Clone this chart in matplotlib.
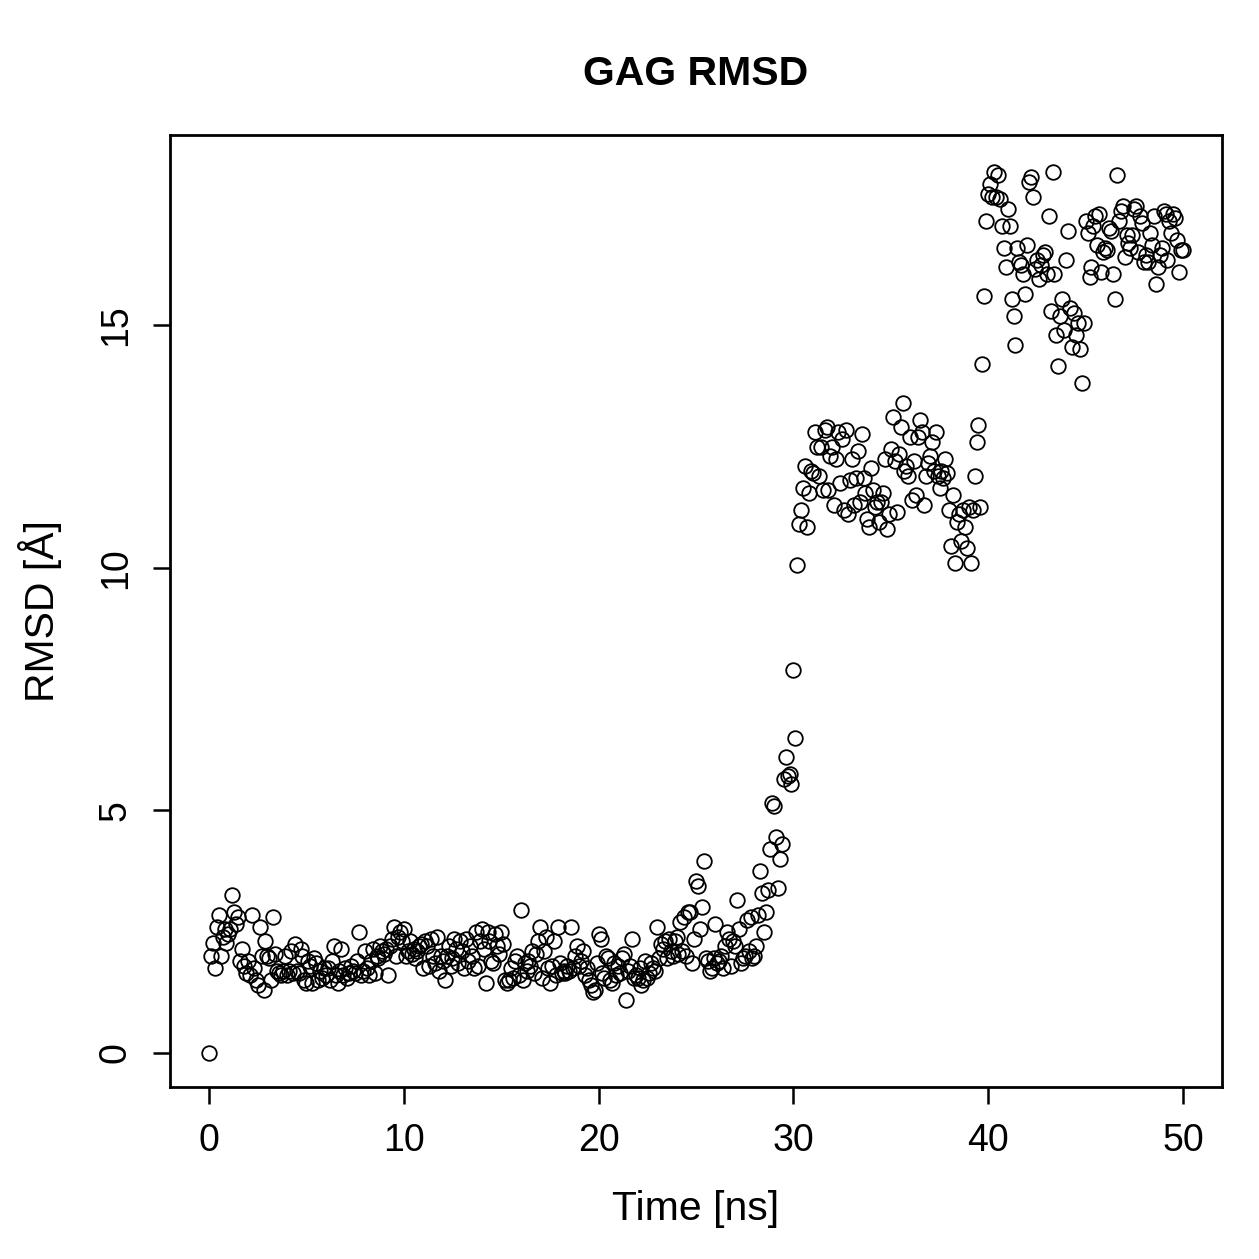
import numpy as np
import matplotlib.pyplot as plt

# RMSD values, one per 0.1 ns (rows = 1 ns)
rmsd = [
    0.0, 2.0, 2.27, 1.75, 2.6, 2.85, 2.0, 2.4, 2.55, 2.27,
    2.45, 2.55, 3.25, 2.9, 2.65, 2.8, 1.9, 2.15, 1.8, 1.65,
    1.9, 1.6, 2.85, 1.75, 1.5, 1.4, 2.6, 2.0, 1.3, 2.3,
    2.0, 1.95, 1.5, 2.8, 2.05, 1.7, 1.65, 1.6, 1.7, 2.0,
    1.6, 1.7, 2.1, 1.65, 2.25, 1.7, 1.65, 2.15, 2.0, 1.5,
    1.45, 1.9, 1.8, 1.45, 1.95, 1.85, 1.5, 1.7, 1.55, 1.75,
    1.6, 1.75, 1.5, 1.9, 2.2, 1.6, 1.45, 1.7, 2.15, 1.6,
    1.75, 1.55, 1.65, 1.8, 1.7, 1.65, 1.9, 2.5, 1.6, 1.7,
    2.1, 1.75, 1.6, 1.9, 2.15, 1.65, 2.0, 1.95, 2.2, 2.1,
    2.05, 2.15, 1.6, 2.2, 2.35, 2.6, 2.0, 2.4, 2.5, 2.3,
    2.55, 2.0, 2.1, 2.3, 2.05, 2.15, 1.95, 2.1, 2.2, 2.25,
    1.75, 2.3, 2.2, 1.8, 2.35, 2.0, 1.85, 2.4, 1.7, 2.0,
    1.9, 1.5, 2.0, 2.2, 1.8, 1.95, 2.35, 2.15, 1.85, 2.3,
    2.1, 1.75, 2.35, 1.9, 2.2, 2.0, 1.75, 2.5, 1.8, 2.3,
    2.55, 2.15, 1.45, 2.5, 2.3, 1.9, 1.85, 2.45, 2.2, 2.05,
    2.5, 2.25, 1.5, 1.45, 1.5, 1.75, 1.55, 1.9, 2.0, 1.6,
    2.95, 1.5, 1.85, 1.7, 1.9, 1.8, 2.1, 1.65, 2.05, 2.3,
    2.6, 1.55, 2.1, 2.4, 1.75, 1.45, 1.8, 2.3, 1.6, 2.6,
    1.85, 1.65, 1.7, 1.65, 1.8, 1.7, 2.6, 1.75, 2.0, 2.2,
    1.8, 1.9, 2.1, 1.6, 1.75, 1.5, 1.4, 1.25, 1.3, 1.85,
    2.45, 2.35, 1.65, 1.55, 2.0, 1.95, 1.5, 1.45, 1.85, 1.6,
    1.8, 1.65, 1.95, 2.05, 1.1, 1.7, 1.8, 2.35, 1.55, 1.6,
    1.55, 1.75, 1.4, 1.5, 1.9, 1.55, 1.65, 1.85, 1.75, 1.7,
    2.6, 1.95, 2.25, 2.15, 2.3, 1.95, 2.35, 2.1, 2.0, 2.3,
    2.4, 2.05, 2.7, 2.1, 2.8, 2.0, 2.9, 2.9, 1.85, 2.35,
    3.55, 3.45, 2.55, 3.0, 3.95, 1.95, 1.9, 1.7, 1.75, 1.95,
    2.65, 1.85, 1.9, 2.0, 1.75, 2.2, 2.5, 2.35, 1.8, 2.3,
    2.2, 3.15, 2.55, 1.85, 1.95, 2.0, 2.75, 2.1, 2.8, 1.95,
    2.0, 2.2, 2.85, 3.75, 3.3, 2.5, 2.9, 3.35, 4.2, 5.15,
    5.1, 4.45, 3.4, 4.0, 4.3, 5.65, 6.1, 5.7, 5.75, 5.55,
    7.9, 6.5, 10.05, 10.9, 11.2, 11.65, 12.1, 10.85, 11.55, 12.0,
    11.95, 12.8, 12.5, 11.9, 12.5, 11.6, 12.85, 12.9, 11.6, 12.3,
    12.5, 11.3, 12.25, 12.8, 11.75, 12.65, 11.2, 12.85, 11.1, 11.8,
    12.25, 11.3, 11.85, 12.4, 11.35, 12.75, 11.85, 11.55, 11.0, 10.85,
    12.05, 11.6, 11.25, 11.35, 10.95, 11.35, 11.55, 12.25, 10.8, 11.1,
    12.45, 13.1, 12.2, 11.15, 12.35, 12.9, 13.4, 12.0, 12.1, 11.9,
    12.7, 11.4, 12.2, 11.5, 12.7, 13.05, 12.8, 11.3, 11.9, 12.15,
    12.3, 12.6, 12.0, 12.8, 11.9, 11.65, 12.0, 11.85, 12.25, 11.95,
    11.2, 10.45, 11.5, 10.1, 10.95, 11.1, 10.55, 11.2, 10.85, 10.4,
    11.25, 10.1, 11.2, 11.9, 12.6, 12.95, 11.25, 14.2, 15.6, 17.15,
    17.7, 17.9, 17.65, 18.15, 17.65, 18.1, 17.6, 17.05, 16.6, 16.2,
    17.4, 17.05, 15.55, 15.2, 14.6, 16.6, 16.3, 16.25, 16.05, 15.65,
    16.65, 17.95, 18.05, 17.65, 16.15, 16.35, 15.95, 16.25, 16.45, 16.5,
    16.05, 17.25, 15.3, 18.15, 16.05, 14.8, 14.15, 15.2, 15.55, 14.9,
    16.35, 16.95, 15.35, 14.55, 15.25, 14.8, 15.05, 14.5, 13.8, 15.05,
    17.15, 16.9, 16.0, 16.2, 17.05, 17.25, 16.65, 17.3, 16.1, 16.5,
    16.6, 16.55, 17.0, 16.95, 16.05, 15.55, 18.1, 17.15, 17.35, 17.45,
    16.4, 16.85, 16.7, 16.6, 16.85, 17.4, 17.45, 16.5, 17.25, 17.1,
    16.3, 16.45, 16.3, 16.9, 16.65, 17.25, 15.85, 16.2, 16.45, 16.6,
    17.35, 17.3, 16.35, 17.15, 16.9, 17.3, 17.2, 16.75, 16.1, 16.55,
    16.55,
]
time_ns = np.arange(len(rmsd)) * 0.1

x_ticks = [0, 10, 20, 30, 40, 50]
y_ticks = [0, 5, 10, 15]

plt.rcParams['font.family'] = ['Liberation Sans', 'DejaVu Sans']

fig = plt.figure(figsize=(12.59, 12.59), dpi=100)
ax = fig.add_axes([170/1259, 172/1259, 1052/1259, 952/1259])

ax.plot(time_ns, rmsd, ls="none", marker="o", markersize=10.5,
        mfc="none", mec="black", mew=1.3)

ax.set_xlim(-2, 52)
ax.set_ylim(-0.70, 18.92)
ax.set_xticks(x_ticks)
ax.set_yticks(y_ticks)
ax.tick_params(axis="both", length=12, width=1.8, labelsize=27, pad=14)
for lab in ax.get_yticklabels():
    lab.set_rotation(90)
    lab.set_va("center")
for s in ax.spines.values():
    s.set_linewidth(2.0)

ax.set_xlabel("Time [ns]", fontsize=29.5, labelpad=22)
ax.set_ylabel("RMSD [Å]", fontsize=29.5, labelpad=26)
ax.set_title("GAG RMSD", fontsize=29.5, fontweight="bold", pad=36)

fig.savefig("out.png", dpi=100)
